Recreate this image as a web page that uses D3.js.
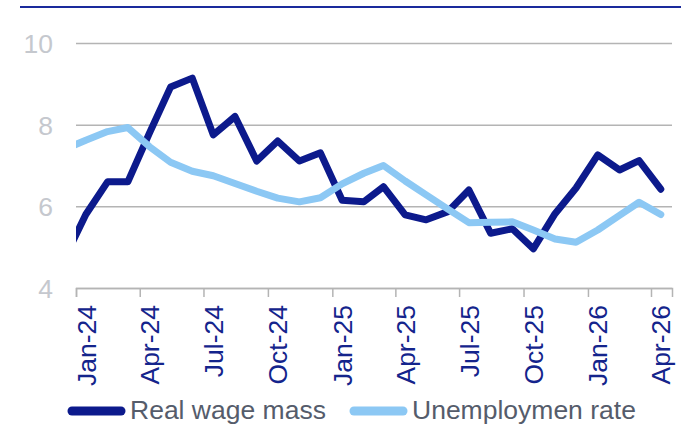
<!DOCTYPE html>
<html>
<head>
<meta charset="utf-8">
<script src="https://cdn.jsdelivr.net/npm/d3@7"></script>
<style>
  body { margin: 0; background: #fff; }
  svg { display: block; font-family: "Liberation Sans", Arial, sans-serif; }
</style>
</head>
<body>
<div id="chart"></div>
<script>
// Monthly observations (plotted mid-month); Dec-23 is partly hidden behind the left edge
const months = [
  "2023-12",
  "2024-01", "2024-02", "2024-03", "2024-04", "2024-05", "2024-06",
  "2024-07", "2024-08", "2024-09", "2024-10", "2024-11", "2024-12",
  "2025-01", "2025-02", "2025-03", "2025-04", "2025-05", "2025-06",
  "2025-07", "2025-08", "2025-09", "2025-10", "2025-11", "2025-12",
  "2026-01", "2026-02", "2026-03", "2026-04"
];
const realWageMass = [
  4.7,
  5.8, 6.6, 6.6, 7.8, 8.92, 9.14,
  7.75, 8.2, 7.11, 7.6, 7.11, 7.31,
  6.15, 6.11, 6.48, 5.79, 5.67, 5.87,
  6.4, 5.34, 5.45, 4.96, 5.82, 6.45,
  7.26, 6.89, 7.12, 6.42
];
const unemploymentRate = [
  7.39,
  7.62, 7.83, 7.93, 7.46, 7.08, 6.86,
  6.75, 6.56, 6.37, 6.2, 6.11, 6.21,
  6.55, 6.81, 7.0, 6.62, 6.28, 5.93,
  5.6, 5.61, 5.62, 5.42, 5.2, 5.12,
  5.42, 5.78, 6.1, 5.8
];
const xTicks = ["2024-01", "2024-04", "2024-07", "2024-10", "2025-01",
                "2025-04", "2025-07", "2025-10", "2026-01", "2026-04"];
const yTicks = [4, 6, 8, 10];
const seriesNames = ["Real wage mass", "Unemploymen rate"];

const width = 681, height = 424;
const margin = { top: 43, right: 9, bottom: 136, left: 76 };
const plotW = width - margin.left - margin.right;
const plotH = height - margin.top - margin.bottom;

const darkBlue = "#0c1a8c";
const lightBlue = "#8cc8f4";

const parseMonth = d3.timeParse("%Y-%m");
const midMonth = s => { const d = parseMonth(s); d.setDate(15); return d; };

const x = d3.scaleTime()
  .domain([parseMonth("2024-01"), parseMonth("2026-05")])
  .range([0, plotW]);
const y = d3.scaleLinear().domain([4, 10]).range([plotH, 0]);

const svg = d3.select("#chart").append("svg")
  .attr("width", width)
  .attr("height", height);

// top rule
svg.append("line")
  .attr("x1", 20).attr("x2", width)
  .attr("y1", 7).attr("y2", 7)
  .attr("stroke", "#1a2a9c")
  .attr("stroke-width", 1.8);

const g = svg.append("g").attr("transform", `translate(${margin.left},${margin.top})`);

// y gridlines + labels
const yAxis = g.append("g")
  .call(d3.axisLeft(y).tickValues(yTicks).tickSize(-plotW).tickPadding(23).tickFormat(d3.format("d")));
yAxis.select(".domain").remove();
yAxis.selectAll(".tick line").attr("stroke", "#b4b4b4").attr("stroke-width", 1.5);
yAxis.selectAll(".tick text")
  .attr("fill", "#c5c8ce")
  .attr("font-size", 26.5)
  .attr("dy", "0.36em");

// x axis
const xAxis = g.append("g")
  .attr("transform", `translate(0,${plotH})`)
  .call(d3.axisBottom(x)
    .tickValues(xTicks.map(parseMonth))
    .tickSize(9)
    .tickFormat(d3.timeFormat("%b-%y")));
xAxis.select(".domain").attr("stroke", "#b4b4b4").attr("stroke-width", 1.5);
xAxis.selectAll(".tick line").attr("stroke", "#b4b4b4").attr("stroke-width", 1.5);
xAxis.selectAll(".tick text")
  .attr("fill", "#14248c")
  .attr("font-size", 26.5)
  .attr("text-anchor", "end")
  .attr("transform", "rotate(-90)")
  .attr("x", -17)
  .attr("y", 19)
  .attr("dy", 0);

// clip lines to plot area horizontally
svg.append("defs").append("clipPath").attr("id", "plotClip")
  .append("rect")
  .attr("x", 0).attr("y", -20)
  .attr("width", plotW).attr("height", plotH + 40);

const line = d3.line()
  .x((d, i) => x(midMonth(months[i])))
  .y(d => y(d));

const lines = g.append("g").attr("clip-path", "url(#plotClip)");
[[realWageMass, darkBlue], [unemploymentRate, lightBlue]].forEach(([vals, col]) => {
  lines.append("path")
    .datum(vals)
    .attr("d", line)
    .attr("fill", "none")
    .attr("stroke", col)
    .attr("stroke-width", 7)
    .attr("stroke-linejoin", "round")
    .attr("stroke-linecap", "round");
});

// legend
const legendItems = [
  { name: seriesNames[0], color: darkBlue, x: 72 },
  { name: seriesNames[1], color: lightBlue, x: 354 }
];
const legend = svg.append("g");
legendItems.forEach(item => {
  legend.append("line")
    .attr("x1", item.x).attr("x2", item.x + 49)
    .attr("y1", 411).attr("y2", 411)
    .attr("stroke", item.color)
    .attr("stroke-width", 9)
    .attr("stroke-linecap", "round");
  legend.append("text")
    .attr("x", item.x + 58)
    .attr("y", 418.5)
    .attr("fill", "#555c6b")
    .attr("font-size", 26.5)
    .text(item.name);
});
</script>
</body>
</html>
